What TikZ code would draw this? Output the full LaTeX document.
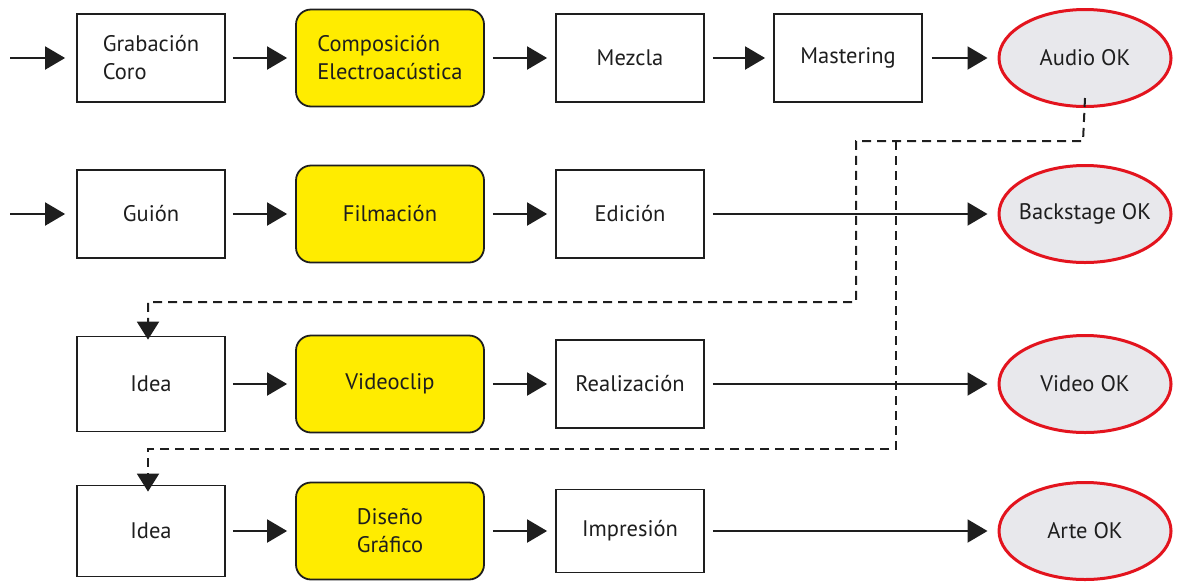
\documentclass[tikz,border=0pt]{standalone}
\usepackage{fontspec}
\setmainfont{PT Sans}
\usetikzlibrary{arrows.meta,shapes.geometric}
\definecolor{yfill}{HTML}{FFEC00}
\definecolor{okred}{HTML}{E3141E}
\definecolor{okgray}{HTML}{E8E8EC}
\definecolor{ink}{HTML}{1E1E1E}
\newcommand{\zw}[1]{\makebox[0pt]{#1}}
\begin{document}
\begin{tikzpicture}[x=1pt,y=-1pt,
  font=\fontsize{22.5}{28}\selectfont,
  text=ink,
  box/.style={draw=ink,line width=1.8pt,fill=white,minimum width=148pt,minimum height=88pt,inner sep=0pt},
  ybox/.style={draw=ink,line width=1.8pt,fill=yfill,rounded corners=15pt,minimum width=188pt,minimum height=97pt,inner sep=0pt},
  okell/.style={ellipse,draw=okred,line width=3pt,fill=okgray,minimum width=172pt,minimum height=97pt,inner sep=0pt},
  arr/.style={draw=ink,line width=2pt,-{Triangle[length=20pt,width=23pt]}},
  dline/.style={draw=ink,line width=2pt,dash pattern=on 9pt off 6pt,-{Triangle[length=18pt,width=22pt]}}
]
\useasboundingbox (0,0) rectangle (1177,582);

% row 1
\coordinate (s1) at (10,58);
\node[box,align=left] (grab) at (151,58) {Grabación\\Coro};
\node[ybox,align=left] (comp) at (390,58) {Composición\\Electroacústica};
\node[box] (mez) at (630,58) {Mezcla};
\node[box] (mast) at (848,58) {Mastering};
\node[okell] (audio) at (1085,58) {\zw{Audio OK}};

% row 2
\coordinate (s2) at (10,214);
\node[box] (guion) at (151,214) {Guión};
\node[ybox] (film) at (390,214) {Filmación};
\node[box] (edic) at (630,214) {Edición};
\node[okell] (back) at (1085,214) {\zw{Backstage OK}};

% row 3
\node[box,minimum height=95pt] (idea3) at (151,384) {Idea};
\node[ybox] (video) at (390,384) {Videoclip};
\node[box] (real) at (630,384) {Realización};
\node[okell] (vok) at (1085,384) {\zw{Video OK}};

% row 4
\node[box,minimum height=91pt] (idea4) at (151,531) {Idea};
\node[ybox,align=center] (dis) at (390,531) {Diseño\\Gráfico};
\node[box,minimum height=83pt] (impr) at (630,531) {Impresión};
\node[okell] (arte) at (1085,531) {\zw{Arte OK}};

% solid arrows row 1
\draw[arr] (s1) -- ([xshift=-11pt]grab.west);
\draw[arr] ([xshift=7pt]grab.east) -- ([xshift=-8pt]comp.west);
\draw[arr] ([xshift=8pt]comp.east) -- ([xshift=-8pt]mez.west);
\draw[arr] ([xshift=8pt]mez.east) -- ([xshift=-8pt]mast.west);
\draw[arr] ([xshift=9pt]mast.east) -- ([xshift=-10pt]audio.west);

% row 2
\draw[arr] (s2) -- ([xshift=-11pt]guion.west);
\draw[arr] ([xshift=7pt]guion.east) -- ([xshift=-8pt]film.west);
\draw[arr] ([xshift=8pt]film.east) -- ([xshift=-8pt]edic.west);
\draw[arr] ([xshift=8pt]edic.east) -- ([xshift=-10pt]back.west);

% row 3
\draw[arr] ([xshift=7pt]idea3.east) -- ([xshift=-8pt]video.west);
\draw[arr] ([xshift=8pt]video.east) -- ([xshift=-8pt]real.west);
\draw[arr] ([xshift=8pt]real.east) -- ([xshift=-10pt]vok.west);

% row 4
\draw[arr] ([xshift=7pt]idea4.east) -- ([xshift=-8pt]dis.west);
\draw[arr] ([xshift=8pt]dis.east) -- ([xshift=-8pt]impr.west);
\draw[arr] ([xshift=8pt]impr.east) -- ([xshift=-10pt]arte.west);

% dashed connectors
\coordinate (d1) at (856,141);
\coordinate (d2) at (896,141);
\draw[dline] ([yshift=10pt]audio.south) -- ([xshift=-2pt]audio.south |- d1) -- (d1) -- (856,302) -- ([xshift=-3pt]idea3.north |- 0,302) -- ([xshift=-3pt,yshift=-4pt]idea3.north);
\draw[dline] (d2) -- (896,449) -- ([xshift=-3pt]idea4.north |- 0,449) -- ([xshift=-3pt,yshift=-7pt]idea4.north);
\end{tikzpicture}
\end{document}
